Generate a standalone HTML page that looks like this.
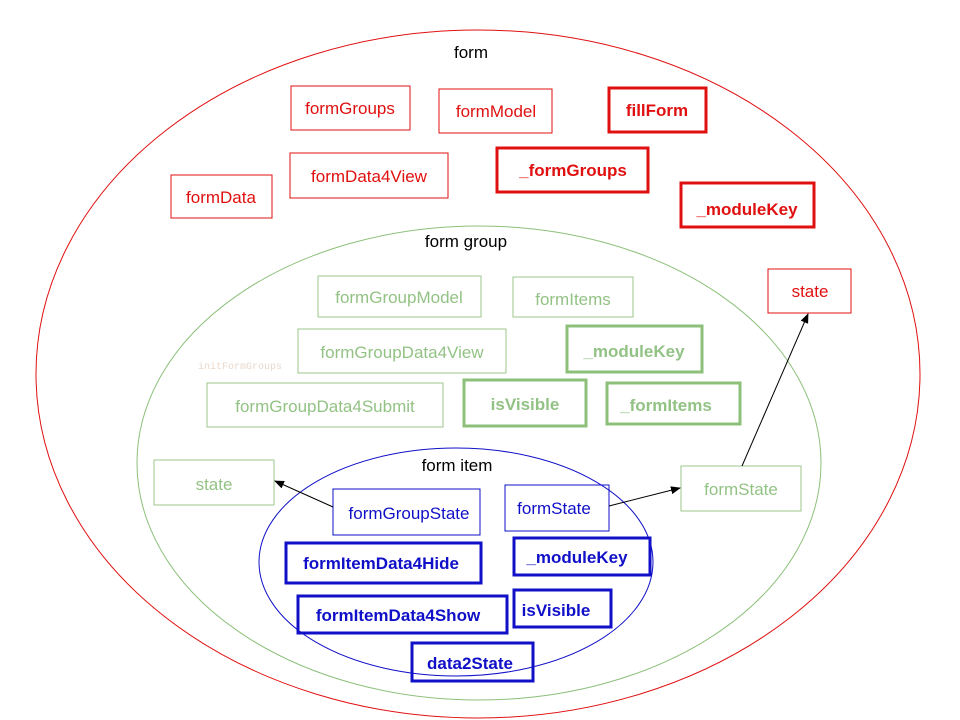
<!DOCTYPE html>
<html><head><meta charset="utf-8"><style>
html,body{margin:0;padding:0;background:#fff;}
svg{display:block;}
text{font-family:"Liberation Sans",sans-serif;font-size:17px;}
</style></head><body>
<svg width="960" height="720" viewBox="0 0 960 720" xmlns="http://www.w3.org/2000/svg">
<defs>
<marker id="ah" markerWidth="10" markerHeight="8" refX="9" refY="4" orient="auto" markerUnits="userSpaceOnUse">
<path d="M0,0 L10,4 L0,8 z" fill="#000"/></marker>
</defs>
<ellipse cx="478" cy="374" rx="442" ry="344" fill="none" stroke="#e01010" stroke-width="1"/>
<ellipse cx="479" cy="463" rx="342" ry="237" fill="none" stroke="#8cc07a" stroke-width="1"/>
<ellipse cx="456" cy="562" rx="197" ry="114" fill="none" stroke="#1010c8" stroke-width="1"/>
<text x="471" y="58" text-anchor="middle" fill="#000">form</text>
<text x="466" y="247" text-anchor="middle" fill="#000">form group</text>
<text x="457" y="471" text-anchor="middle" fill="#000">form item</text>
<text x="240" y="369" text-anchor="middle" fill="#e8d8cc" style="font-family:'Liberation Mono',monospace;font-size:10px">initFormGroups</text>

<g fill="none" stroke="#e01010" stroke-width="1">
<rect x="291" y="86" width="119" height="44"/><rect x="439" y="89" width="113" height="44"/>
<rect x="290" y="153" width="158" height="45"/><rect x="171" y="175" width="101" height="43"/>
<rect x="768" y="269" width="83" height="44"/>
</g>
<g fill="none" stroke="#e01010" stroke-width="3">
<rect x="609" y="88" width="97" height="44"/><rect x="497" y="148" width="151" height="44"/>
<rect x="681" y="183" width="133" height="44"/>
</g>
<g fill="#e01010" text-anchor="middle">
<text x="350" y="114">formGroups</text><text x="496" y="117">formModel</text>
<text x="369" y="182">formData4View</text><text x="221" y="203">formData</text>
<text x="810" y="297">state</text>
<text x="657" y="116" style="font-weight:bold">fillForm</text>
<text x="573" y="176" style="font-weight:bold">_formGroups</text>
<text x="747" y="215" style="font-weight:bold">_moduleKey</text>
</g>

<g fill="none" stroke="#9cc78c" stroke-width="1">
<rect x="318" y="276" width="163" height="41"/><rect x="513" y="277" width="120" height="40"/>
<rect x="298" y="329" width="208" height="44"/><rect x="207" y="383" width="236" height="44"/>
<rect x="154" y="460" width="120" height="45"/><rect x="681" y="466" width="120" height="45"/>
</g>
<g fill="none" stroke="#8cc07a" stroke-width="3">
<rect x="567" y="326" width="135" height="46"/><rect x="464" y="380" width="122" height="46"/>
<rect x="607" y="383" width="133" height="41"/>
</g>
<g fill="#93c285" text-anchor="middle">
<text x="399" y="303">formGroupModel</text><text x="573" y="305">formItems</text>
<text x="402" y="358">formGroupData4View</text><text x="325" y="412">formGroupData4Submit</text>
<text x="214" y="490">state</text><text x="741" y="495">formState</text>
<text x="634" y="357" style="font-weight:bold">_moduleKey</text>
<text x="525" y="410" style="font-weight:bold">isVisible</text>
<text x="666" y="411" style="font-weight:bold">_formItems</text>
</g>

<g fill="none" stroke="#1010c8" stroke-width="1">
<rect x="333" y="489" width="147" height="46"/><rect x="505" y="485" width="104" height="46"/>
</g>
<g fill="none" stroke="#1010c8" stroke-width="3">
<rect x="286" y="543" width="195" height="40"/><rect x="514" y="538" width="136" height="37"/>
<rect x="298" y="596" width="209" height="37"/><rect x="514" y="590" width="97" height="37"/>
<rect x="412" y="643" width="121" height="38"/>
</g>
<g fill="#1010c8" text-anchor="middle">
<text x="409" y="519">formGroupState</text><text x="554" y="514">formState</text>
<text x="381" y="569" style="font-weight:bold">formItemData4Hide</text>
<text x="577" y="563" style="font-weight:bold">_moduleKey</text>
<text x="398" y="621" style="font-weight:bold">formItemData4Show</text>
<text x="556" y="616" style="font-weight:bold">isVisible</text>
<text x="470" y="669" style="font-weight:bold">data2State</text>
</g>

<g stroke="#000" stroke-width="1" fill="none">
<line x1="333" y1="507" x2="275" y2="481" marker-end="url(#ah)"/>
<line x1="609" y1="506" x2="680" y2="488" marker-end="url(#ah)"/>
<line x1="742" y1="466" x2="808" y2="314" marker-end="url(#ah)"/>
</g>
</svg>
</body></html>
